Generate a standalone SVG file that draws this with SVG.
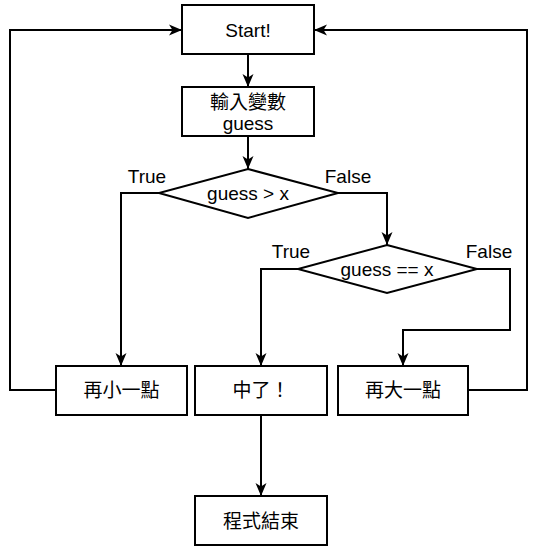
<svg xmlns="http://www.w3.org/2000/svg" width="537" height="552" viewBox="0 0 537 552">
<defs>
<marker id="arr" markerUnits="userSpaceOnUse" viewBox="0 0 13 12" markerWidth="13" markerHeight="12" refX="13" refY="6" orient="auto">
<path d="M0,0.5 L13,6 L0,11.5 L3.5,6 z" fill="#000"/>
</marker>
<style>
.box{fill:#fff;stroke:#000;stroke-width:2}
.t{font-family:"Liberation Sans","Noto Sans CJK TC",Arial,sans-serif;font-size:19px;fill:#000;text-anchor:middle;dominant-baseline:central}
.e{fill:none;stroke:#000;stroke-width:2;marker-end:url(#arr)}
</style>
</defs>
<rect width="537" height="552" fill="#fff"/>
<g id="connectors">
<path class="e" d="M248,54 L248,87"/>
<path class="e" d="M248,136 L248,169"/>
<path class="e" d="M159,193 L121,193 L121,366"/>
<path class="e" d="M338,193 L387,193 L387,245"/>
<path class="e" d="M298,269 L261,269 L261,366"/>
<path class="e" d="M477,269 L510,269 L510,330 L403,330 L403,366"/>
<path class="e" d="M56,390 L10,390 L10,30 L182,30"/>
<path class="e" d="M468,390 L527,390 L527,30 L314,30"/>
<path class="e" d="M261,415 L261,496"/>
<text class="t" x="147" y="176">True</text>
<text class="t" x="348" y="176">False</text>
<text class="t" x="291" y="251">True</text>
<text class="t" x="489" y="251">False</text>
</g>
<g id="start">
<rect class="box" x="182" y="5" width="132" height="49"/>
<text class="t" x="248" y="30">Start!</text>
</g>
<g id="input">
<rect class="box" x="182" y="87" width="132" height="49"/>
<text class="t" x="248" y="102">輸入變數</text>
<text class="t" x="248" y="123">guess</text>
</g>
<g id="cond1">
<polygon class="box" points="248,169 338,193 248,218 159,193"/>
<text class="t" x="248" y="193">guess &gt; x</text>
</g>
<g id="cond2">
<polygon class="box" points="387,245 477,269 387,293 298,269"/>
<text class="t" x="387" y="269">guess == x</text>
</g>
<g id="smaller">
<rect class="box" x="56" y="366" width="131" height="49"/>
<text class="t" x="121.5" y="390">再小一點</text>
</g>
<g id="hit">
<rect class="box" x="195" y="366" width="132" height="49"/>
<text class="t" x="261" y="390">中了！</text>
</g>
<g id="bigger">
<rect class="box" x="338" y="366" width="130" height="49"/>
<text class="t" x="403" y="390">再大一點</text>
</g>
<g id="end">
<rect class="box" x="195" y="496" width="132" height="49"/>
<text class="t" x="261" y="521">程式結束</text>
</g>
</svg>
